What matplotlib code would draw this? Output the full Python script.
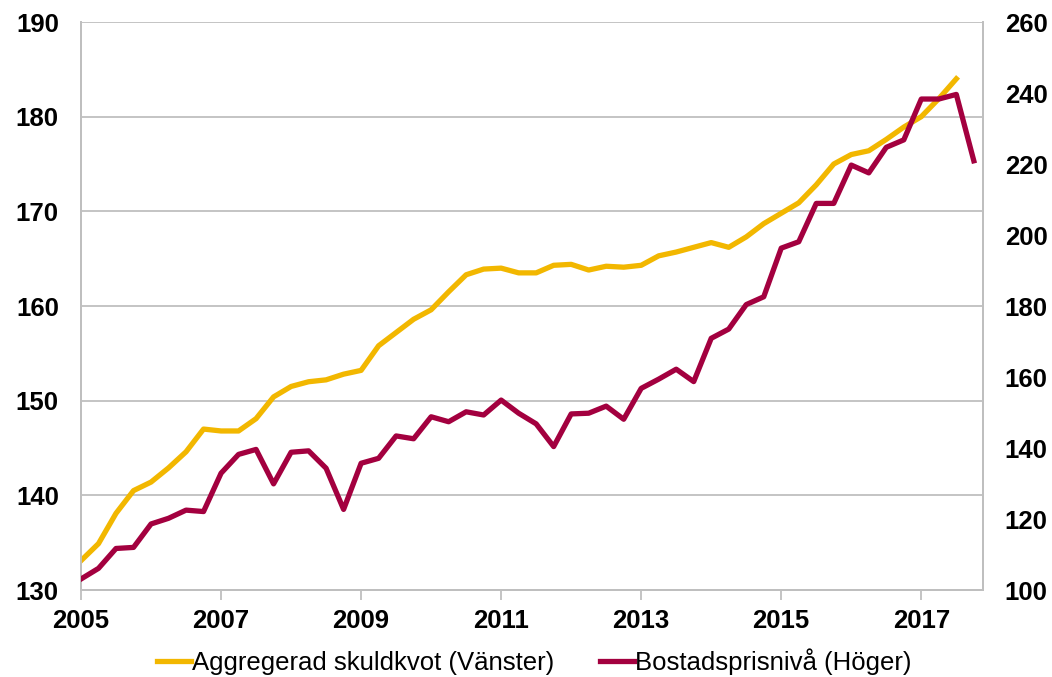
import numpy as np
import matplotlib.pyplot as plt

# quarterly data 2005Q1 - 2017Q4
skuldkvot = [133.1, 134.9, 138.1, 140.5, 141.4, 142.9, 144.6, 147.0, 146.8, 146.8,
             148.1, 150.4, 151.5, 152.0, 152.2, 152.8, 153.2, 155.8, 157.2, 158.6,
             159.6, 161.5, 163.3, 163.9, 164.0, 163.5, 163.5, 164.3, 164.4, 163.8,
             164.2, 164.1, 164.3, 165.3, 165.7, 166.2, 166.7, 166.2, 167.3, 168.7,
             169.8, 170.9, 172.8, 175.0, 176.0, 176.4, 177.6, 178.9, 180.0, 181.9,
             184.0]
bostadspris = [103.1, 106.1, 111.7, 112.0, 118.6, 120.2, 122.5, 122.1, 132.9, 138.2,
               139.6, 129.9, 138.8, 139.2, 134.3, 122.7, 135.7, 137.1, 143.4, 142.6,
               148.8, 147.4, 150.2, 149.3, 153.5, 149.8, 146.8, 140.4, 149.6, 149.8,
               151.8, 148.1, 156.8, 159.4, 162.2, 158.7, 170.9, 173.5, 180.4, 182.6,
               196.3, 198.1, 208.9, 208.9, 219.7, 217.5, 224.7, 226.8, 238.3, 238.3,
               239.6, 220.9]
year_labels = ['2005', '2007', '2009', '2011', '2013', '2015', '2017']

yellow = '#F2B700'
red = '#A3003F'
grid_c = '#BFBFBF'

plt.rcParams['font.family'] = ['Liberation Sans', 'DejaVu Sans']

fig = plt.figure(figsize=(10.52, 6.77), dpi=100)
ax1 = fig.add_axes([0.077, 0.1285, 0.857, 0.839])
ax2 = ax1.twinx()

x1 = np.arange(len(skuldkvot))
x2 = np.arange(len(bostadspris))
l1, = ax1.plot(x1, skuldkvot, color=yellow, lw=3.8, solid_joinstyle='round', zorder=3)
l2, = ax2.plot(x2, bostadspris, color=red, lw=3.8, solid_joinstyle='round', zorder=3)

ax1.set_ylim(130, 190)
ax1.set_yticks(np.arange(130, 191, 10))
ax2.set_ylim(100, 260)
ax2.set_yticks(np.arange(100, 261, 20))
ax1.set_xlim(0, 51.5)
ax1.set_xticks(np.arange(0, 49, 8))
ax1.set_xticklabels(year_labels)

ax1.grid(axis='y', color=grid_c, lw=1.3)
ax1.set_axisbelow(True)
for ax in (ax1, ax2):
    ax.spines['top'].set_visible(False)
    for s in ['left', 'right', 'bottom']:
        ax.spines[s].set_color(grid_c)
        ax.spines[s].set_linewidth(1.3)
ax1.tick_params(axis='y', length=0, pad=16, labelsize=18.5)
ax2.tick_params(axis='y', length=0, pad=16, labelsize=18.5)
ax1.tick_params(axis='x', length=7, width=1.3, color=grid_c, pad=7, labelsize=18.5)
for lab in ax1.get_yticklabels() + ax2.get_yticklabels() + ax1.get_xticklabels():
    lab.set_fontweight('bold')

fig.legend([l1, l2], ['Aggregerad skuldkvot (Vänster)', 'Bostadsprisnivå (Höger)'],
           loc='center', bbox_to_anchor=(0.508, 0.022), ncol=2, frameon=False,
           fontsize=18.5, handlelength=1.3, handletextpad=0.05, columnspacing=1.8)

fig.savefig('out.png', dpi=100)
